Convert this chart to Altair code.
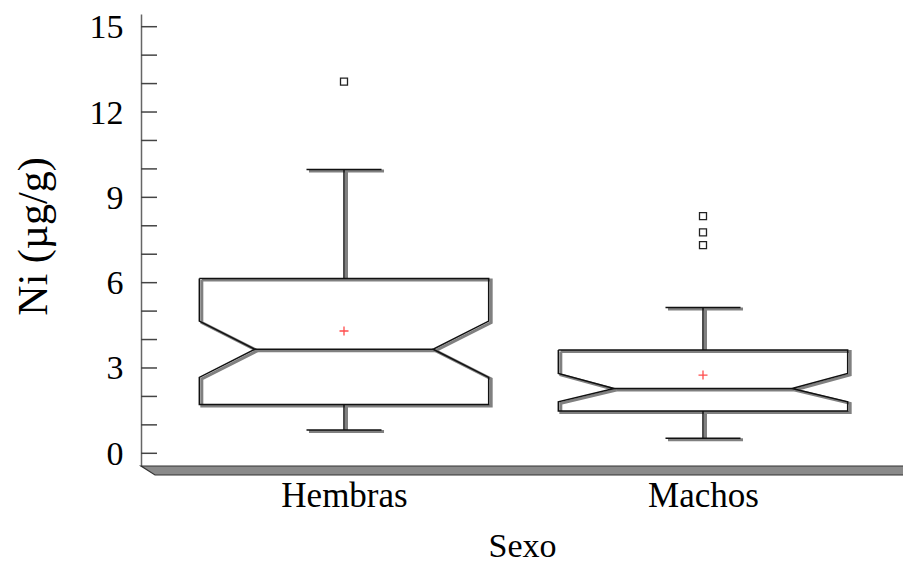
import altair as alt
import pandas as pd

# ---------------- data ----------------
categories = ["Hembras", "Machos"]
q1 = [1.72, 1.49]
medians = [3.66, 2.28]
q3 = [6.15, 3.63]
notch_low = [2.67, 1.81]
notch_high = [4.65, 2.81]
whisker_low = [0.82, 0.53]
whisker_high = [9.98, 5.13]
means = [4.30, 2.75]
outliers = [[13.07], [8.34, 7.77, 7.32]]
y_ticks = list(range(0, 16))
y_labels = [0, 3, 6, 9, 12, 15]

# ---------------- layout / style constants ----------------
W, H = 762, 452
PX_X = 359.0            # pixels per category unit
PX_Y = 28.44            # pixels per y unit
XMIN = 1 - 203 / PX_X
XMAX = XMIN + W / PX_X
YMAX = 439.3 / PX_Y
YMIN = YMAX - H / PX_Y
BOX_HW = 0.403
NOTCH_HW = 0.248
CAP_HW = 0.1045
FONT = "Liberation Serif"

xs = alt.Scale(domain=[XMIN, XMAX], nice=False, zero=False)
ys = alt.Scale(domain=[YMIN, YMAX], nice=False, zero=False)

# ---------------- build line segments ----------------
rows = []
for i, cat in enumerate(categories):
    c = i + 1
    b, n = BOX_HW, NOTCH_HW
    poly = [(c - b, q3[i]), (c + b, q3[i]), (c + b, notch_high[i]), (c + n, medians[i]),
            (c + b, notch_low[i]), (c + b, q1[i]), (c - b, q1[i]), (c - b, notch_low[i]),
            (c - n, medians[i]), (c - b, notch_high[i]), (c - b, q3[i])]
    for k, (x, y) in enumerate(poly):
        rows.append({"seg": f"{cat}-box", "o": k, "x": x, "y": y})
    segs = {
        "med": [(c - n, medians[i]), (c + n, medians[i])],
        "wup": [(c, q3[i]), (c, whisker_high[i])],
        "wlo": [(c, q1[i]), (c, whisker_low[i])],
        "cup": [(c - CAP_HW, whisker_high[i]), (c + CAP_HW, whisker_high[i])],
        "clo": [(c - CAP_HW, whisker_low[i]), (c + CAP_HW, whisker_low[i])],
    }
    for name, pts in segs.items():
        for k, (x, y) in enumerate(pts):
            rows.append({"seg": f"{cat}-{name}", "o": k, "x": x, "y": y})
lines_df = pd.DataFrame(rows)

mean_df = pd.DataFrame({"x": [i + 1 for i in range(len(categories))], "y": means})
out_rows = []
for i, vals in enumerate(outliers):
    for v in vals:
        out_rows.append({"x": i + 1, "y": v})
out_df = pd.DataFrame(out_rows)
tick_df = pd.DataFrame({"y": y_ticks})

# 3-D floor under the plot (pixel offsets converted to data units)
fx_px = [0, 14, W + 2, W + 11]
ftop_px = [H, H, H, H + 9]
fbot_px = [H, H + 9, H + 9, H + 9]
floor_df = pd.DataFrame({
    "x": [XMIN + p / PX_X for p in fx_px],
    "y": [YMAX - p / PX_Y for p in ftop_px],
    "y2": [YMAX - p / PX_Y for p in fbot_px],
})

label_expr = " : ".join(
    [f"datum.value == {i + 1} ? '{c}'" for i, c in enumerate(categories[:-1])]
    + [f"'{categories[-1]}'"]
)

x_axis = alt.Axis(
    values=[i + 1 for i in range(len(categories))], labelExpr=label_expr,
    title="Sexo", titleFont=FONT, titleFontSize=34, titleFontWeight="normal",
    titleColor="black", titleBaseline="alphabetic", titleY=90,
    labelFont=FONT, labelFontSize=35, labelColor="black", labelPadding=12,
    domain=False, ticks=False, tickSize=0, grid=False, labelFlush=False,
)
y_axis = alt.Axis(
    values=y_labels, title="Ni (µg/g)", titleFont=FONT, titleFontSize=42,
    titleFontWeight="normal", titleColor="black", titleAngle=270,
    titleAlign="center", titleBaseline="alphabetic", titleX=-95, titleY=222,
    labelFont=FONT, labelFontSize=34, labelColor="black", labelPadding=18,
    labelBaseline="middle", labelOffset=1,
    ticks=False, tickSize=0, grid=False, domainColor="#666666", domainWidth=1.5,
)


def X():
    return alt.X("x:Q", scale=xs, axis=x_axis)


def Y():
    return alt.Y("y:Q", scale=ys, axis=y_axis)


floor = alt.Chart(floor_df).mark_area(
    orient="vertical", color="#8a8a8a", stroke="#333333", strokeWidth=1.2
).encode(x=X(), y=Y(), y2="y2:Q")

tick_rules = alt.Chart(tick_df).mark_rule(color="#444444", strokeWidth=1.5).encode(
    y=Y(), x=alt.value(0), x2=alt.value(16),
)

shadow = alt.Chart(lines_df).mark_line(
    color="#808080", strokeWidth=3, xOffset=2.5, yOffset=1.5
).encode(x=X(), y=Y(), detail="seg:N", order="o:Q")

outline = alt.Chart(lines_df).mark_line(color="#111111", strokeWidth=1.5).encode(
    x=X(), y=Y(), detail="seg:N", order="o:Q"
)

mean_mark = alt.Chart(mean_df).mark_point(
    shape="M-1,0H1M0,-1V1", size=81, color="red", strokeWidth=1.3, filled=False
).encode(x=X(), y=Y())

out_mark = alt.Chart(out_df).mark_square(
    size=49, fill="white", stroke="#222222", strokeWidth=1.3, opacity=1, filled=True
).encode(x=X(), y=Y())

chart = alt.layer(
    floor, tick_rules, shadow, outline, mean_mark, out_mark
).properties(
    width=W, height=H,
    autosize=alt.AutoSizeParams(type="none"),
    padding={"left": 133, "top": 6, "right": 0, "bottom": 98},
    background="white",
).configure_view(stroke=None)

chart.save("out.html", embed_options={"renderer": "svg", "actions": False})
